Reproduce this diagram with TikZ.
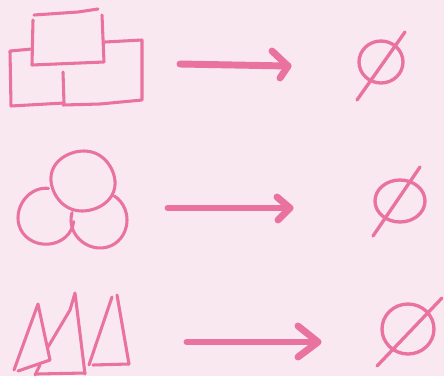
\documentclass[tikz,border=0pt]{standalone}
\definecolor{bgpink}{HTML}{F9E8EF}
\definecolor{inkpink}{HTML}{E9729F}
\begin{document}
\begin{tikzpicture}[x=0.75pt,y=-0.75pt,
  shapeline/.style={draw=inkpink,line width=2.3pt,line cap=round,line join=round},
  arrowline/.style={draw=inkpink,line width=5.2pt,line cap=round,line join=round},
  setline/.style={draw=inkpink,line width=2.5pt,line cap=round,line join=round}]
\fill[bgpink] (0,0) rectangle (444,376);
\useasboundingbox (0,0) rectangle (444,376);
% ---------- rectangles ----------
\draw[shapeline] (34,15) -- (78,12) -- (98,9);
\draw[shapeline] (102,15) -- (104,62) -- (32,65) -- (33,20);
\draw[shapeline] (32,49) -- (10,51) -- (11,106) -- (64,103) -- (63,72);
\draw[shapeline] (105,42) -- (142,40) -- (142,100) -- (100,104) -- (63,105);
% ---------- circles ----------
\draw[shapeline] plot[smooth cycle,domain=0:350,samples=36,variable=\t]
  ({83+32*cos(\t)+0.8*sin(3*\t)},{181+30*sin(\t)});
\draw[shapeline] plot[smooth,domain=-85:-352,samples=30,variable=\t]
  ({46+28*cos(\t)},{217+28*sin(\t)+0.8*cos(2*\t)});
\draw[shapeline] plot[smooth,domain=-57:196,samples=30,variable=\t]
  ({99+28*cos(\t)},{220+28*sin(\t)+0.6*sin(2*\t)});
% ---------- triangles ----------
\draw[shapeline] (14,370) -- (38,304) -- (50,360);
\draw[shapeline] (18,371) -- (50,360);
\draw[shapeline] (48,347) -- (70,310) -- (75,293) -- (85,374);
\draw[shapeline] (40,365) -- (35,375);
\draw[shapeline] (37,374) -- (85,373);
\draw[shapeline] (89,365) -- (112,297);
\draw[shapeline] (117,295) -- (129,364);
\draw[shapeline] (93,365) -- (129,364);
% ---------- arrows ----------
\coordinate (a1s) at (180,64); \coordinate (a1t) at (288,66);
\draw[arrowline] (a1s) -- (a1t);
\draw[arrowline] (272,51) -- (a1t) -- (280,78);
\coordinate (a2s) at (168,208); \coordinate (a2t) at (290,208);
\draw[arrowline] (a2s) -- (a2t);
\draw[arrowline] (277,197) -- (a2t) -- (278,220);
\coordinate (a3s) at (187,342); \coordinate (a3t) at (318,342);
\draw[arrowline] (a3s) -- (a3t);
\draw[arrowline] (298,326) -- (a3t) -- (298,357);
% ---------- empty sets ----------
\draw[setline] (381,62) ellipse[x radius=22,y radius=21];
\draw[setline] (357,100) -- (405,32);
\draw[setline] (400,201) ellipse[x radius=25,y radius=21];
\draw[setline] (373,236) -- (420,167);
\draw[setline] (408,329) ellipse[x radius=26,y radius=25];
\draw[setline] (377,366) -- (442,298);
\end{tikzpicture}
\end{document}
